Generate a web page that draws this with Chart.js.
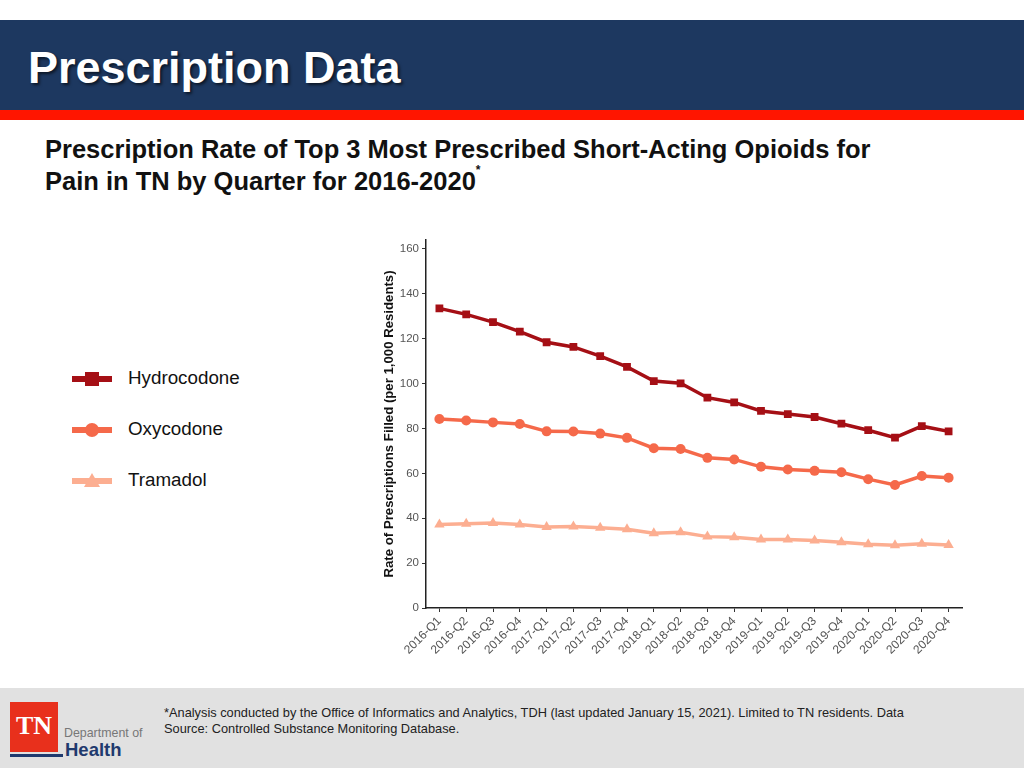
<!DOCTYPE html>
<html><head><meta charset="utf-8">
<script src="https://cdn.jsdelivr.net/npm/chart.js@4"></script>
<style>
html,body{margin:0;padding:0;width:1024px;height:768px;overflow:hidden;background:#fff;font-family:"Liberation Sans",Arial,sans-serif;}
#hdr{position:absolute;left:0;top:20px;width:1024px;height:90px;background:#1d3860;}
#stripe{position:absolute;left:0;top:110px;width:1024px;height:10px;background:#ff1500;}
#ttl{position:absolute;left:28px;top:42px;color:#fff;font-weight:bold;font-size:45px;line-height:52px;text-shadow:2px 2px 3px rgba(0,0,0,0.6);}
#sub{position:absolute;left:45px;top:133px;color:#111;font-weight:bold;font-size:25.5px;line-height:32px;}
#sub sup{font-size:12px;vertical-align:top;line-height:12px;position:relative;top:-1px;}
#foot{position:absolute;left:0;top:688px;width:1024px;height:80px;background:#e1e1e1;}
#note{position:absolute;left:164px;top:705px;font-size:12.8px;line-height:16px;color:#222;}
#logo{position:absolute;left:10px;top:702px;width:48px;height:50px;background:#e8301c;color:#fff;font-family:"Liberation Serif","Times New Roman",serif;font-weight:bold;font-size:26px;text-align:center;line-height:48px;}
#logoline{position:absolute;left:10px;top:754px;width:53px;height:3px;background:#1f3a6e;}
#dept{position:absolute;left:64px;top:726px;font-size:12.4px;color:#777;}
#health{position:absolute;left:65px;top:739px;font-size:18.5px;font-weight:bold;color:#1f3a6e;}
#chartbox{position:absolute;left:377px;top:230px;width:595px;height:440px;}
.leg{position:absolute;left:72px;height:20px;}
.leg span{position:absolute;left:56px;top:-2px;font-size:18.8px;color:#111;white-space:nowrap;}
</style></head>
<body>
<div id="hdr"></div><div id="stripe"></div>
<div id="ttl">Prescription Data</div>
<div id="sub">Prescription Rate of Top 3 Most Prescribed Short-Acting Opioids for<br>Pain in TN by Quarter for 2016-2020<sup>*</sup></div>
<div id="legend"></div>
<div id="chartbox"><canvas id="c" width="595" height="440"></canvas></div>
<div id="foot"></div>
<div id="logo">TN</div><div id="logoline"></div>
<div id="dept">Department of</div>
<div id="health">Health</div>
<div id="note">*Analysis conducted by the Office of Informatics and Analytics, TDH (last updated January 15, 2021). Limited to TN residents. Data<br>Source: Controlled Substance Monitoring Database.</div>
<script>
const quarters = ["2016-Q1","2016-Q2","2016-Q3","2016-Q4","2017-Q1","2017-Q2","2017-Q3","2017-Q4","2018-Q1","2018-Q2","2018-Q3","2018-Q4","2019-Q1","2019-Q2","2019-Q3","2019-Q4","2020-Q1","2020-Q2","2020-Q3","2020-Q4"];
const hydrocodone = [133.5,130.8,127.4,123.1,118.4,116.3,112.2,107.4,101.1,100.1,93.7,91.6,87.8,86.4,85.1,82.1,79.2,75.9,81.0,78.7];
const oxycodone = [84.2,83.5,82.7,82.0,78.7,78.6,77.7,75.8,71.2,70.8,66.9,66.2,62.9,61.7,61.1,60.5,57.4,54.8,58.8,58.0];
const tramadol = [37.2,37.5,37.9,37.2,36.1,36.3,35.8,35.1,33.3,33.7,31.8,31.5,30.5,30.5,30.1,29.3,28.4,28.0,28.6,28.1];
const seriesNames = ["Hydrocodone","Oxycodone","Tramadol"];
const yTicks = [0,20,40,60,80,100,120,140,160];
const yTitle = "Rate of Prescriptions Filled (per 1,000 Residents)";

const colors = ["#a50f15","#f5694a","#fcae91"];
const shapes = ["rect","circle","triangle"];
const radii = [5.5,5,6];
const allData = [hydrocodone, oxycodone, tramadol];

// HTML legend
const legTop = [369,420,471];
const leg = document.getElementById('legend');
seriesNames.forEach((n,i)=>{
  const d = document.createElement('div');
  d.className='leg'; d.style.top = legTop[i]+'px';
  let marker='';
  if(shapes[i]==='rect') marker=`<rect x="13" y="3" width="14" height="14" fill="${colors[i]}"/>`;
  if(shapes[i]==='circle') marker=`<circle cx="20" cy="10" r="7" fill="${colors[i]}"/>`;
  if(shapes[i]==='triangle') marker=`<polygon points="20,2 28,16 12,16" fill="${colors[i]}"/>`;
  d.innerHTML = `<svg width="40" height="20" style="position:absolute;left:0;top:0"><line x1="0" y1="10" x2="40" y2="10" stroke="${colors[i]}" stroke-width="6"/>${marker}</svg><span>${n}</span>`;
  leg.appendChild(d);
});

const font = "'Liberation Sans', Arial, sans-serif";
new Chart(document.getElementById('c'), {
  type:'line',
  data:{
    labels: quarters,
    datasets: allData.map((d,i)=>({
      label: seriesNames[i], data:d,
      borderColor: colors[i], backgroundColor: colors[i],
      borderWidth: 3.5, pointStyle: shapes[i], pointRadius: radii[i],
      pointBorderWidth:0, tension:0
    }))
  },
  options:{
    responsive:false, animation:false,
    layout:{padding:{top:8,right:10,left:0,bottom:0}},
    plugins:{legend:{display:false},tooltip:{enabled:false}},
    scales:{
      x:{
        offset:true,
        grid:{drawOnChartArea:false, drawTicks:true, tickLength:4, color:'#333', lineWidth:1},
        border:{display:true,color:'#222',width:1.5},
        ticks:{maxRotation:45,minRotation:45,autoSkip:false,color:'#555',font:{family:font,size:12},padding:2},
        afterFit:(s)=>{s.height=62;}
      },
      y:{
        min:0,max:164,
        grid:{drawOnChartArea:false, drawTicks:true, tickLength:4, color:'#333', lineWidth:1},
        border:{display:true,color:'#222',width:1.5},
        ticks:{stepSize:20,color:'#555',font:{family:font,size:11.5},padding:3},
        afterBuildTicks:(s)=>{s.ticks = yTicks.map(v=>({value:v}));},
        title:{display:true,text:yTitle,color:'#111',font:{family:font,size:13.2,weight:'bold'},padding:{top:4,bottom:4}},
        afterFit:(s)=>{s.width=49;}
      }
    }
  }
});
</script>
</body></html>
